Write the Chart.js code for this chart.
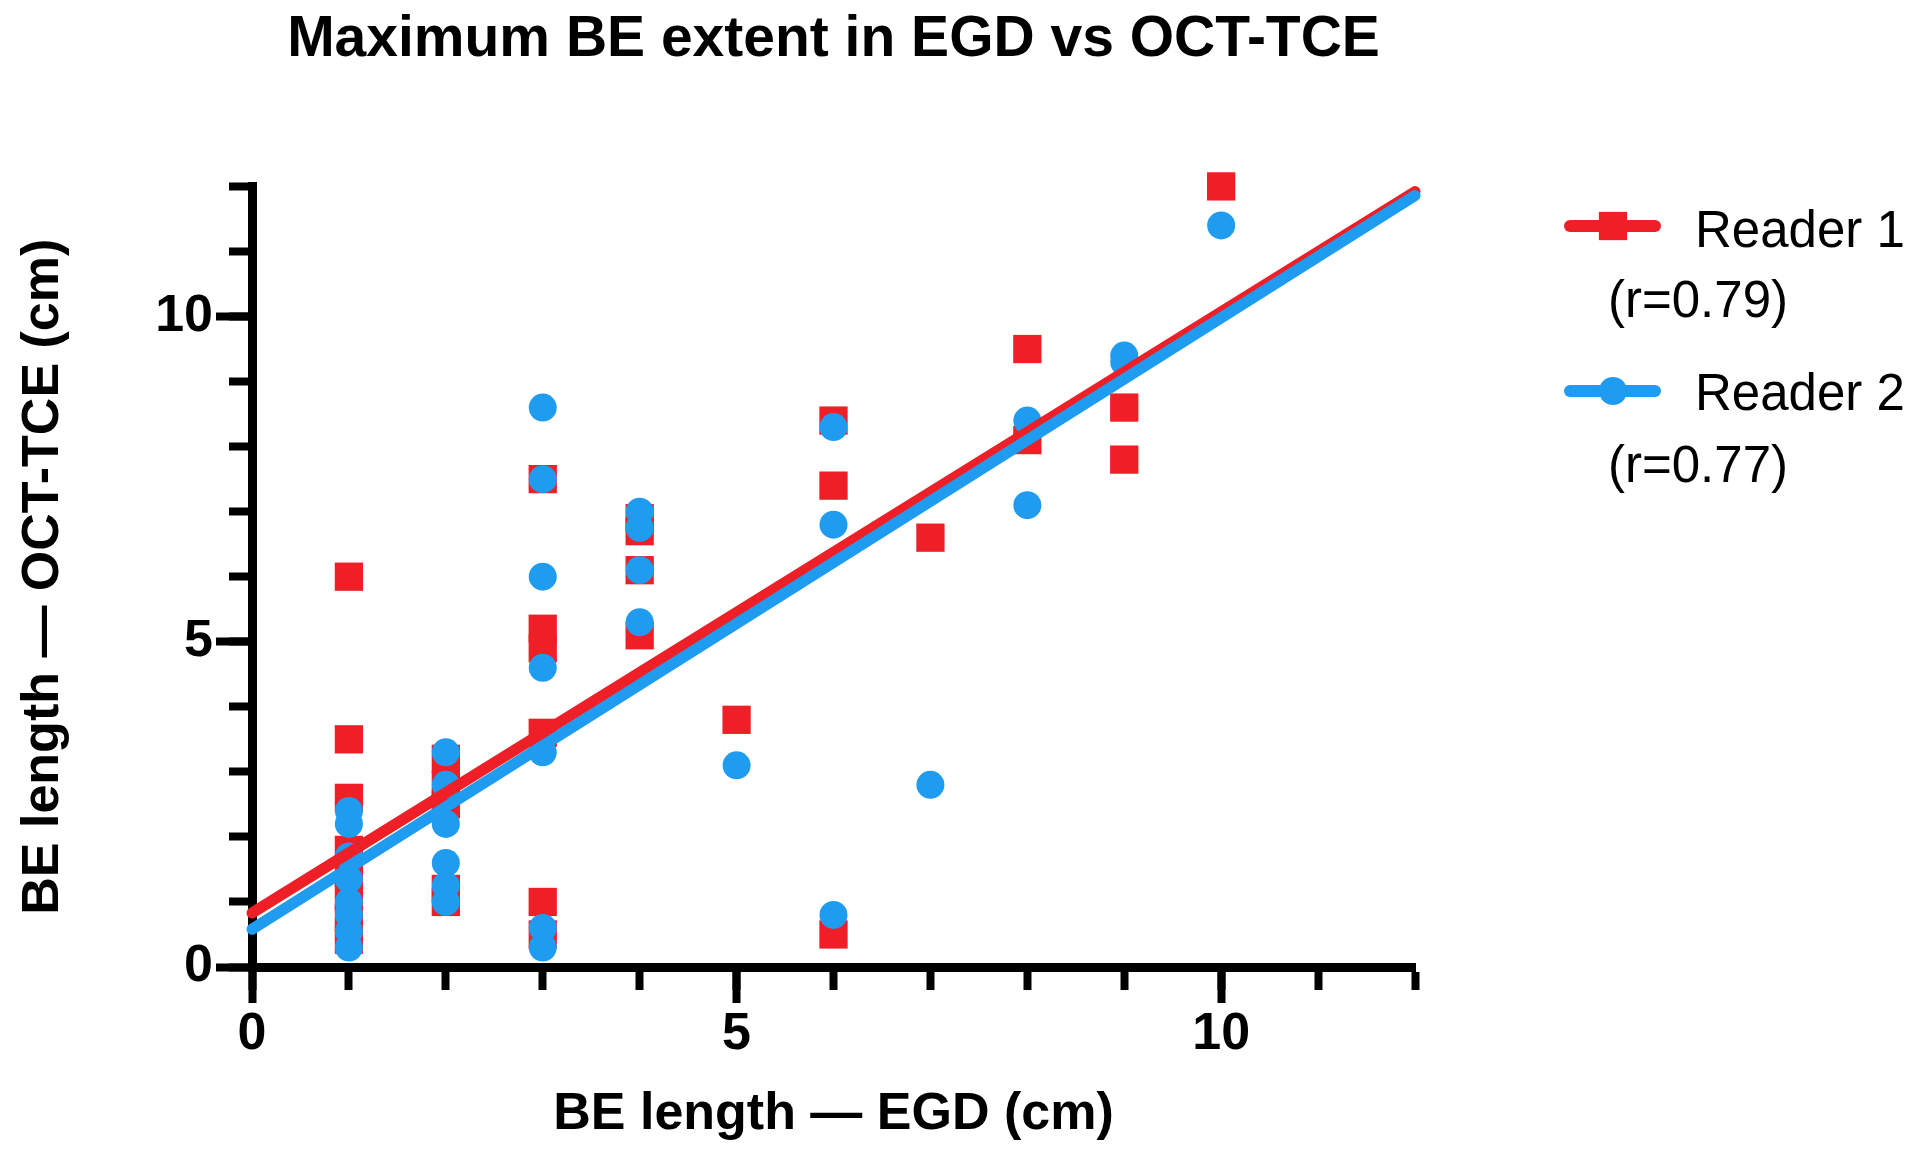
<!DOCTYPE html>
<html>
<head>
<meta charset="utf-8">
<title>Maximum BE extent in EGD vs OCT-TCE</title>
<script src="https://cdn.jsdelivr.net/npm/chart.js@4.4.1/dist/chart.umd.min.js"></script>
<style>
    html, body { margin: 0; padding: 0; background: #ffffff; }
    #wrap { width: 1920px; height: 1155px; }
</style>
</head>
<body>
<div id="wrap"><canvas id="beChart" width="1920" height="1155"></canvas></div>
<script>
// Reader 1 (red squares): EGD length vs OCT-TCE length
const reader1Egd = [1, 1, 1, 1, 1, 1, 1, 1,
                    2, 2, 2, 2, 2,
                    3, 3, 3, 3, 3, 3,
                    4, 4, 4, 4,
                    5,
                    6, 6, 6,
                    7,
                    8, 8,
                    9, 9,
                    10];
const reader1Oct = [6.0, 3.5, 2.6, 1.8, 1.45, 1.1, 0.75, 0.42,
                    3.2, 2.8, 2.5, 1.2, 1.0,
                    7.5, 5.2, 4.9, 3.6, 1.0, 0.5,
                    6.9, 6.7, 6.1, 5.1,
                    3.8,
                    8.4, 7.4, 0.5,
                    6.6,
                    9.5, 8.1,
                    8.6, 7.8,
                    12.0];

// Reader 2 (blue circles)
const reader2Egd = [1, 1, 1, 1, 1, 1, 1, 1,
                    2, 2, 2, 2, 2, 2,
                    3, 3, 3, 3, 3, 3, 3,
                    4, 4, 4, 4,
                    5,
                    6, 6, 6,
                    7,
                    8, 8,
                    9, 9,
                    10];
const reader2Oct = [2.4, 2.2, 1.7, 1.35, 1.0, 0.8, 0.55, 0.3,
                    3.3, 2.8, 2.2, 1.6, 1.25, 1.0,
                    8.6, 7.5, 6.0, 4.6, 3.3, 0.6, 0.3,
                    7.0, 6.75, 6.1, 5.3,
                    3.1,
                    8.3, 6.8, 0.8,
                    2.8,
                    8.4, 7.1,
                    9.4, 9.3,
                    11.4];

// regression lines (ends)
const fitEgd = [0, 12];
const fit1Oct = [0.83, 11.92];
const fit2Oct = [0.58, 11.86];

const seriesNames = ['Reader 1', 'Reader 2'];
const seriesR = ['(r=0.79)', '(r=0.77)'];
const majorTicks = [0, 5, 10];
const minorTicks = [0, 1, 2, 3, 4, 5, 6, 7, 8, 9, 10, 11, 12];

const RED = '#EE1F27';
const BLUE = '#1F9BEF';
const FONT = "'Liberation Sans', Arial, Helvetica, sans-serif";

Chart.defaults.font.family = FONT;
Chart.defaults.color = '#000';

function toPoints(xs, ys) {
    return xs.map((x, i) => ({ x: x, y: ys[i] }));
}

// legend drawn at the right of the plot, two lines per reader
const sideLegend = {
    id: 'sideLegend',
    afterDraw(chart) {
        const ctx = chart.ctx;
        const right = chart.chartArea.right;
        const rows = [
            { color: RED, style: 'rect', radius: 20, lineY: 226, nameY: 247, rY: 317 },
            { color: BLUE, style: 'circle', radius: 14, lineY: 391, nameY: 410, rY: 482 }
        ];
        ctx.save();
        rows.forEach((row, i) => {
            ctx.strokeStyle = row.color;
            ctx.fillStyle = row.color;
            ctx.lineWidth = 12;
            ctx.lineCap = 'round';
            ctx.beginPath();
            ctx.moveTo(right + 155, row.lineY);
            ctx.lineTo(right + 240, row.lineY);
            ctx.stroke();
            Chart.helpers.drawPoint(ctx, { pointStyle: row.style, radius: row.radius, rotation: 0, borderWidth: 0 },
                right + 198, row.lineY);
            ctx.fillStyle = '#000';
            ctx.font = '51px ' + FONT;
            ctx.textAlign = 'left';
            ctx.textBaseline = 'alphabetic';
            ctx.fillText(seriesNames[i], right + 280, row.nameY);
            ctx.fillText(seriesR[i], right + 193, row.rY);
        });
        ctx.restore();
    }
};

const axisFont = { family: FONT, size: 52, weight: 'bold' };

const ctx = document.getElementById('beChart').getContext('2d');
new Chart(ctx, {
    type: 'scatter',
    data: {
        datasets: [
            {
                label: seriesNames[1] + ' fit',
                data: toPoints(fitEgd, fit2Oct),
                showLine: true,
                borderColor: BLUE,
                borderWidth: 11,
                borderCapStyle: 'round',
                pointRadius: 0,
                clip: false,
                order: 0
            },
            {
                label: seriesNames[0] + ' fit',
                data: toPoints(fitEgd, fit1Oct),
                showLine: true,
                borderColor: RED,
                borderWidth: 11,
                borderCapStyle: 'round',
                pointRadius: 0,
                clip: false,
                order: 1
            },
            {
                label: seriesNames[1],
                data: toPoints(reader2Egd, reader2Oct),
                pointStyle: 'circle',
                pointRadius: 14,
                pointBorderWidth: 0,
                backgroundColor: BLUE,
                borderColor: BLUE,
                clip: false,
                order: 2
            },
            {
                label: seriesNames[0],
                data: toPoints(reader1Egd, reader1Oct),
                pointStyle: 'rect',
                pointRadius: 20,
                pointBorderWidth: 0,
                backgroundColor: RED,
                borderColor: RED,
                clip: false,
                order: 3
            }
        ]
    },
    options: {
        responsive: false,
        animation: false,
        devicePixelRatio: 1,
        layout: { padding: { left: 0, right: 505, top: 0, bottom: 0 } },
        plugins: {
            legend: { display: false },
            tooltip: { enabled: false },
            title: {
                display: true,
                text: 'Maximum BE extent in EGD vs OCT-TCE',
                fullSize: false,
                color: '#000',
                font: { family: FONT, size: 57, weight: 'bold' },
                padding: { top: 6, bottom: 112 }
            }
        },
        scales: {
            x: {
                type: 'linear',
                position: 'bottom',
                min: 0,
                max: 12,
                weight: 0,
                afterBuildTicks: s => { s.ticks = majorTicks.map(v => ({ value: v })); },
                afterFit: s => { s.height = 188; },
                border: { display: true, color: '#000', width: 9 },
                grid: { drawOnChartArea: false, drawTicks: true, tickLength: 36, tickWidth: 8, tickColor: '#000' },
                ticks: { color: '#000', font: axisFont, padding: 0, maxRotation: 0 },
                title: {
                    display: true,
                    text: 'BE length — EGD (cm)',
                    color: '#000',
                    font: axisFont,
                    padding: { top: 0, bottom: 9 }
                }
            },
            xMinor: {
                type: 'linear',
                position: 'bottom',
                min: 0,
                max: 12,
                weight: -1,
                afterBuildTicks: s => { s.ticks = minorTicks.map(v => ({ value: v })); },
                afterFit: s => { s.height = 0; },
                border: { display: true, color: '#000', width: 9 },
                grid: { drawOnChartArea: false, drawTicks: true, tickLength: 23, tickWidth: 8, tickColor: '#000' },
                ticks: { display: false }
            },
            y: {
                type: 'linear',
                position: 'left',
                min: 0,
                max: 12,
                weight: 0,
                afterBuildTicks: s => { s.ticks = majorTicks.map(v => ({ value: v })); },
                afterFit: s => { s.width = 252; },
                border: { display: true, color: '#000', width: 9 },
                grid: { drawOnChartArea: false, drawTicks: true, tickLength: 36, tickWidth: 8, tickColor: '#000' },
                ticks: { color: '#000', font: axisFont, padding: 3 },
                title: {
                    display: true,
                    text: 'BE length — OCT-TCE (cm)',
                    color: '#000',
                    font: axisFont,
                    padding: { top: 12, bottom: 0 }
                }
            },
            yMinor: {
                type: 'linear',
                position: 'left',
                min: 0,
                max: 12,
                weight: -1,
                afterBuildTicks: s => { s.ticks = minorTicks.map(v => ({ value: v })); },
                afterFit: s => { s.width = 0; },
                border: { display: true, color: '#000', width: 9 },
                grid: { drawOnChartArea: false, drawTicks: true, tickLength: 23, tickWidth: 8, tickColor: '#000' },
                ticks: { display: false }
            }
        }
    },
    plugins: [sideLegend]
});
</script>
</body>
</html>
